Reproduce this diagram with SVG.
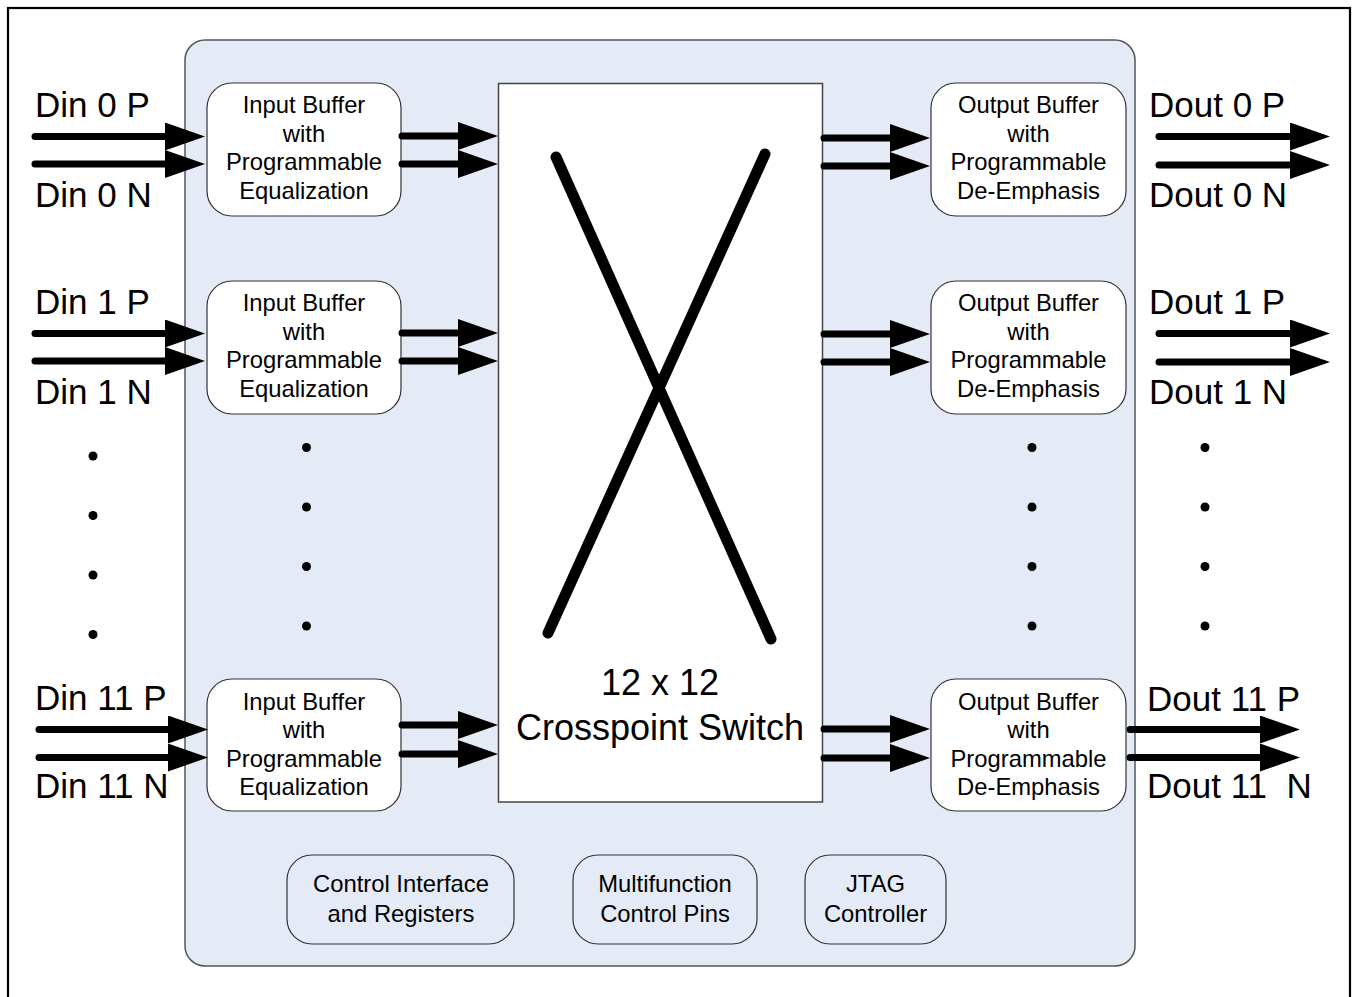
<svg xmlns="http://www.w3.org/2000/svg" width="1354" height="997" viewBox="0 0 1354 997">
<style>
  text { font-family: "Liberation Sans", Arial, sans-serif; fill: #000; text-anchor: middle; }
  .pin { font-size: 35px; text-anchor: start; }
  .box { font-size: 23.8px; }
  .big { font-size: 36px; }
  .buf { fill: #ffffff; stroke: #333; stroke-width: 1.2; }
  .ctl { fill: #e5ebf6; stroke: #333; stroke-width: 1.2; }
  .wire { stroke: #000; stroke-width: 7; stroke-linecap: round; fill: none; marker-end: url(#ah); }
  .x { stroke: #000; stroke-width: 11; stroke-linecap: round; }
  .dot { fill: #000; }
</style>
<defs>
  <marker id="ah" viewBox="0 0 40 28" refX="4" refY="14" markerWidth="40" markerHeight="28" markerUnits="userSpaceOnUse" orient="auto">
    <path d="M0,0 L40,14 L0,28 Z" fill="#000"/>
  </marker>
</defs>
<rect width="1354" height="997" fill="#fff"/>
<rect id="frame" x="8" y="8" width="1342" height="1000" fill="none" stroke="#000" stroke-width="2.2"/>
<g id="device">
  <rect x="185" y="40" width="950" height="926" rx="20" ry="20" fill="#e5ebf6" stroke="#555" stroke-width="1.5"/>
</g>
<g id="crosspoint">
  <rect x="498.5" y="83.5" width="324" height="718.5" fill="#fff" stroke="#444" stroke-width="1.5"/>
  <line class="x" x1="556" y1="157" x2="771" y2="639"/>
  <line class="x" x1="765" y1="154" x2="548" y2="633"/>
  <text class="big" x="660" y="695">12 x 12</text>
  <text class="big" x="660" y="740">Crosspoint Switch</text>
</g>
<g id="inbuf0">
  <rect class="buf" x="207" y="83" width="194" height="133" rx="25" ry="25"/>
  <text class="box" x="304" y="113">Input Buffer</text>
  <text class="box" x="304" y="141.5">with</text>
  <text class="box" x="304" y="170">Programmable</text>
  <text class="box" x="304" y="198.5">Equalization</text>
</g>
<g id="inbuf1">
  <rect class="buf" x="207" y="281" width="194" height="133" rx="25" ry="25"/>
  <text class="box" x="304" y="311">Input Buffer</text>
  <text class="box" x="304" y="339.5">with</text>
  <text class="box" x="304" y="368">Programmable</text>
  <text class="box" x="304" y="396.5">Equalization</text>
</g>
<g id="inbuf11">
  <rect class="buf" x="207" y="679" width="194" height="132" rx="25" ry="25"/>
  <text class="box" x="304" y="709.5">Input Buffer</text>
  <text class="box" x="304" y="738">with</text>
  <text class="box" x="304" y="766.5">Programmable</text>
  <text class="box" x="304" y="795">Equalization</text>
</g>
<g id="outbuf0">
  <rect class="buf" x="931" y="83" width="195" height="133" rx="25" ry="25"/>
  <text class="box" x="1028.5" y="113">Output Buffer</text>
  <text class="box" x="1028.5" y="141.5">with</text>
  <text class="box" x="1028.5" y="170">Programmable</text>
  <text class="box" x="1028.5" y="198.5">De-Emphasis</text>
</g>
<g id="outbuf1">
  <rect class="buf" x="931" y="281" width="195" height="133" rx="25" ry="25"/>
  <text class="box" x="1028.5" y="311">Output Buffer</text>
  <text class="box" x="1028.5" y="339.5">with</text>
  <text class="box" x="1028.5" y="368">Programmable</text>
  <text class="box" x="1028.5" y="396.5">De-Emphasis</text>
</g>
<g id="outbuf11">
  <rect class="buf" x="931" y="679" width="195" height="132" rx="25" ry="25"/>
  <text class="box" x="1028.5" y="709.5">Output Buffer</text>
  <text class="box" x="1028.5" y="738">with</text>
  <text class="box" x="1028.5" y="766.5">Programmable</text>
  <text class="box" x="1028.5" y="795">De-Emphasis</text>
</g>
<g id="ctrl">
  <rect class="ctl" x="287" y="855" width="227" height="89" rx="25" ry="25"/>
  <text class="box" x="401" y="892">Control Interface</text>
  <text class="box" x="401" y="922">and Registers</text>
</g>
<g id="mfpins">
  <rect class="ctl" x="573" y="855" width="184" height="89" rx="25" ry="25"/>
  <text class="box" x="665" y="892">Multifunction</text>
  <text class="box" x="665" y="922">Control Pins</text>
</g>
<g id="jtag">
  <rect class="ctl" x="805" y="855" width="141" height="89" rx="25" ry="25"/>
  <text class="box" x="875.5" y="892">JTAG</text>
  <text class="box" x="875.5" y="922">Controller</text>
</g>
<g id="pins">
  <text class="pin" x="35" y="117">Din 0 P</text>
  <text class="pin" x="35" y="207">Din 0 N</text>
  <text class="pin" x="35" y="314">Din 1 P</text>
  <text class="pin" x="35" y="404">Din 1 N</text>
  <text class="pin" x="35" y="710">Din 11 P</text>
  <text class="pin" x="35" y="798">Din 11 N</text>
  <text class="pin" x="1149" y="117">Dout 0 P</text>
  <text class="pin" x="1149" y="207">Dout 0 N</text>
  <text class="pin" x="1149" y="314">Dout 1 P</text>
  <text class="pin" x="1149" y="404">Dout 1 N</text>
  <text class="pin" x="1147" y="711">Dout 11 P</text>
  <text class="pin" x="1147" y="798" xml:space="preserve">Dout 11  N</text>
</g>
<g id="dots">
  <circle class="dot" cx="93" cy="456" r="4.5"/>
  <circle class="dot" cx="93" cy="515.5" r="4.5"/>
  <circle class="dot" cx="93" cy="575" r="4.5"/>
  <circle class="dot" cx="93" cy="634.5" r="4.5"/>
  <circle class="dot" cx="306.5" cy="447.5" r="4.5"/>
  <circle class="dot" cx="306.5" cy="507" r="4.5"/>
  <circle class="dot" cx="306.5" cy="566.5" r="4.5"/>
  <circle class="dot" cx="306.5" cy="626" r="4.5"/>
  <circle class="dot" cx="1032" cy="447.5" r="4.5"/>
  <circle class="dot" cx="1032" cy="507" r="4.5"/>
  <circle class="dot" cx="1032" cy="566.5" r="4.5"/>
  <circle class="dot" cx="1032" cy="626" r="4.5"/>
  <circle class="dot" cx="1205" cy="447.5" r="4.5"/>
  <circle class="dot" cx="1205" cy="507" r="4.5"/>
  <circle class="dot" cx="1205" cy="566.5" r="4.5"/>
  <circle class="dot" cx="1205" cy="626" r="4.5"/>
</g>
<g id="connectors">
  <!-- row 0 -->
  <line class="wire" x1="35" y1="136.5" x2="169" y2="136.5"/>
  <line class="wire" x1="35" y1="164" x2="169" y2="164"/>
  <line class="wire" x1="402" y1="136" x2="462" y2="136"/>
  <line class="wire" x1="402" y1="164" x2="462" y2="164"/>
  <line class="wire" x1="824" y1="138" x2="894" y2="138"/>
  <line class="wire" x1="824" y1="166" x2="894" y2="166"/>
  <line class="wire" x1="1159" y1="136.5" x2="1294" y2="136.5"/>
  <line class="wire" x1="1159" y1="165" x2="1294" y2="165"/>
  <!-- row 1 -->
  <line class="wire" x1="35" y1="333.5" x2="169" y2="333.5"/>
  <line class="wire" x1="35" y1="361" x2="169" y2="361"/>
  <line class="wire" x1="402" y1="333" x2="462" y2="333"/>
  <line class="wire" x1="402" y1="361" x2="462" y2="361"/>
  <line class="wire" x1="824" y1="334" x2="894" y2="334"/>
  <line class="wire" x1="824" y1="362" x2="894" y2="362"/>
  <line class="wire" x1="1159" y1="333.5" x2="1294" y2="333.5"/>
  <line class="wire" x1="1159" y1="362" x2="1294" y2="362"/>
  <!-- row 11 -->
  <line class="wire" x1="39" y1="729.5" x2="172" y2="729.5"/>
  <line class="wire" x1="39" y1="757.5" x2="172" y2="757.5"/>
  <line class="wire" x1="402" y1="725" x2="462" y2="725"/>
  <line class="wire" x1="402" y1="754" x2="462" y2="754"/>
  <line class="wire" x1="824" y1="729" x2="894" y2="729"/>
  <line class="wire" x1="824" y1="758" x2="894" y2="758"/>
  <line class="wire" x1="1130" y1="729.5" x2="1264" y2="729.5"/>
  <line class="wire" x1="1130" y1="757.5" x2="1264" y2="757.5"/>
</g>
</svg>
